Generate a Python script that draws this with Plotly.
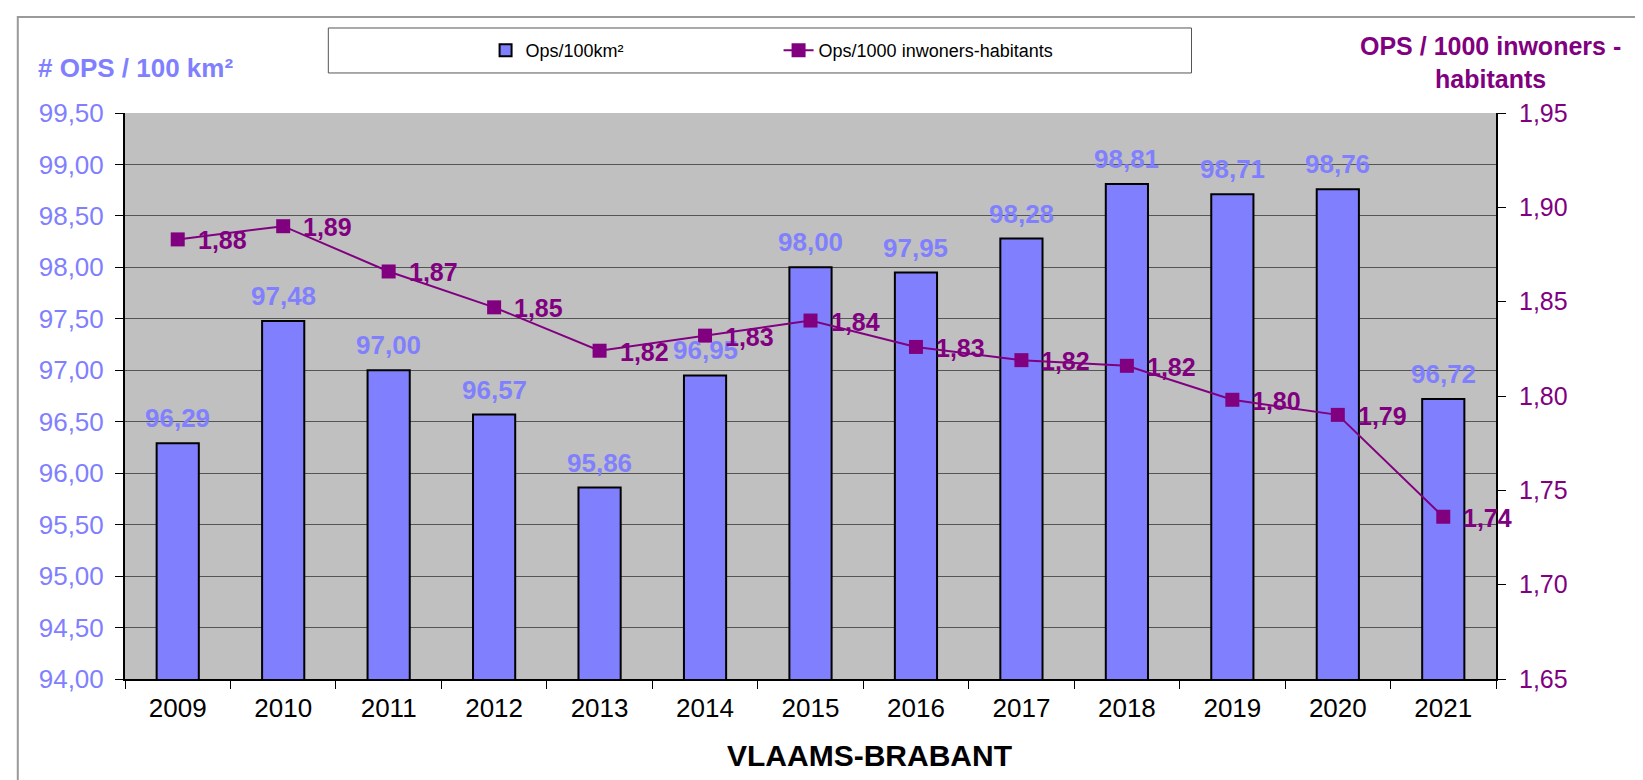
import plotly.graph_objects as go

jaren = ["2009", "2010", "2011", "2012", "2013", "2014", "2015",
         "2016", "2017", "2018", "2019", "2020", "2021"]
ops_100km2 = [96.29, 97.48, 97.00, 96.57, 95.86, 96.95, 98.00,
              97.95, 98.28, 98.81, 98.71, 98.76, 96.72]
ops_1000_inw = [1.883, 1.890, 1.866, 1.847, 1.824, 1.832, 1.840,
                1.826, 1.819, 1.816, 1.798, 1.790, 1.736]

BLAUW = "#8080FF"
PAARS = "#800080"
FONT = "Liberation Sans, Arial, sans-serif"


def komma(v):
    return f"{v:.2f}".replace(".", ",")


fig = go.Figure()
fig.add_trace(go.Bar(
    x=jaren, y=ops_100km2, name="Ops/100km²",
    marker=dict(color=BLAUW, line=dict(color="black", width=2)),
))
fig.add_trace(go.Scatter(
    x=jaren, y=ops_1000_inw, name="Ops/1000 inwoners-habitants", yaxis="y2",
    mode="lines+markers",
    line=dict(color=PAARS, width=2),
    marker=dict(symbol="square", size=14, color=PAARS),
))

# labels: x als categorie-index (anders leest plotly "2009" als getal)
annotations = []
for i, v in enumerate(ops_100km2):
    annotations.append(dict(
        x=i, y=v, xref="x", yref="y", text=komma(v), showarrow=False,
        yanchor="bottom", yshift=8,
        font=dict(family=FONT, size=26, color=BLAUW, weight="bold"),
    ))
for i, v in enumerate(ops_1000_inw):
    annotations.append(dict(
        x=i, y=v, xref="x", yref="y2", text=komma(v), showarrow=False,
        xanchor="left", xshift=18, yshift=-1,
        font=dict(family=FONT, size=25, color=PAARS, weight="bold"),
    ))

# titels boven de assen
annotations.append(dict(
    x=-0.065, y=1.0795, xref="paper", yref="paper", xanchor="left", yanchor="middle",
    text="# OPS / 100 km²", showarrow=False,
    font=dict(family=FONT, size=26, color=BLAUW, weight="bold"),
))
annotations.append(dict(
    x=0.996, y=1.09, xref="paper", yref="paper", xanchor="center", yanchor="middle",
    text="OPS / 1000 inwoners -<br>habitants", showarrow=False,
    font=dict(family=FONT, size=25, color=PAARS, weight="bold"),
))
annotations.append(dict(
    x=0.5427, y=-0.135, xref="paper", yref="paper", xanchor="center", yanchor="middle",
    text="VLAAMS-BRABANT", showarrow=False,
    font=dict(family=FONT, size=30, color="black", weight="bold"),
))

shapes = [
    # kader rond de grafiek
    dict(type="rect", xref="paper", yref="paper", x0=-0.0782, x1=1.3, y0=-0.4, y1=1.1696,
         line=dict(color="#9a9a9a", width=2), fillcolor="rgba(0,0,0,0)", layer="below"),
    # kader rond de legende
    dict(type="rect", xref="paper", yref="paper", x0=0.1483, x1=0.7779, y0=1.0707, y1=1.1502,
         line=dict(color="#555555", width=1), fillcolor="white"),
]

fig.update_layout(
    width=1643, height=780,
    margin=dict(l=117, r=155, t=105, b=109),
    paper_bgcolor="white",
    plot_bgcolor="#C0C0C0",
    font=dict(family=FONT, size=25, color="black"),
    bargap=0.6,
    showlegend=True,
    legend=dict(
        orientation="h", x=0.263, y=1.1104, xanchor="left", yanchor="middle",
        bgcolor="rgba(0,0,0,0)", font=dict(family=FONT, size=18, color="black"),
        entrywidth=248, entrywidthmode="pixels",
    ),
    xaxis=dict(
        type="category", range=[-0.5, 12.5], autorange=False,
        showline=True, linecolor="black", linewidth=2,
        ticks="outside", tickson="boundaries", ticklen=8, tickcolor="black",
        tickfont=dict(family=FONT, size=26, color="black"), ticklabelstandoff=5,
        showgrid=False,
    ),
    yaxis=dict(
        range=[94, 99.5], tick0=94, dtick=0.5, tickformat=".2f",
        showline=True, linecolor="black", linewidth=2,
        ticks="outside", ticklen=8, tickcolor="black",
        tickfont=dict(family=FONT, size=26, color=BLAUW), ticklabelstandoff=6,
        showgrid=True, gridcolor="#555555", gridwidth=1, zeroline=False,
    ),
    yaxis2=dict(
        range=[1.65, 1.95], tick0=1.65, dtick=0.05, tickformat=".2f",
        overlaying="y", side="right",
        showline=True, linecolor="black", linewidth=2,
        ticks="outside", ticklen=8, tickcolor="black",
        tickfont=dict(family=FONT, size=25, color=PAARS), ticklabelstandoff=8,
        showgrid=False, zeroline=False,
    ),
    separators=",.",
    annotations=annotations,
    shapes=shapes,
)

fig.write_html("out.html")
